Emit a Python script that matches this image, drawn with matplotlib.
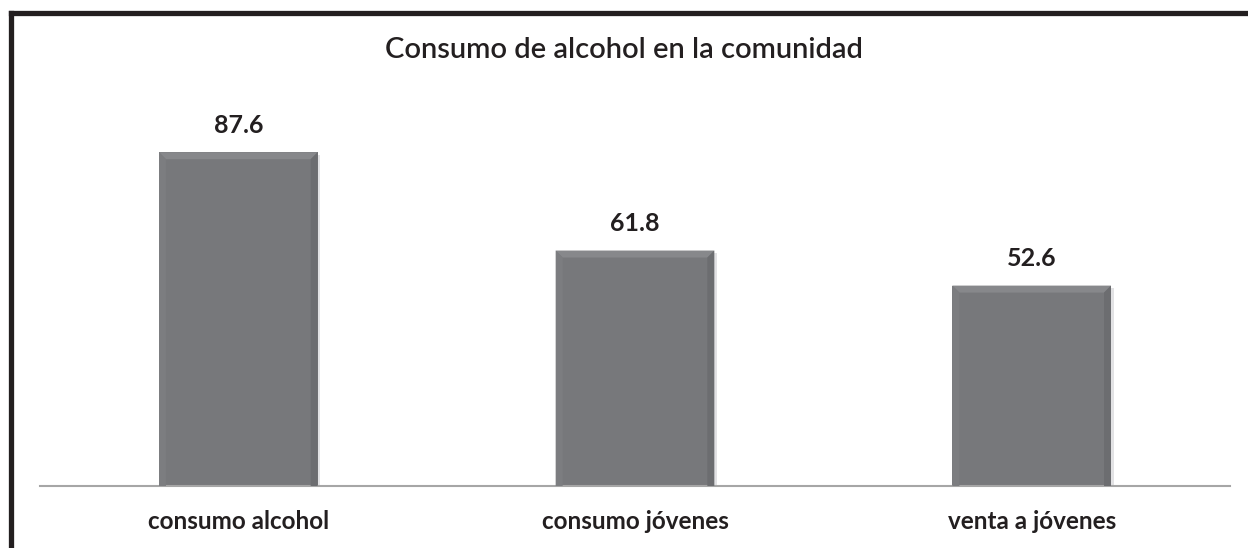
import matplotlib
matplotlib.use("Agg")
from matplotlib import pyplot as plt
from matplotlib.patches import Polygon, Rectangle

# chart data
categories = ["consumo alcohol", "consumo jóvenes", "venta a jóvenes"]
values = [87.6, 61.8, 52.6]
title = "Consumo de alcohol en la comunidad"

bar_color = "#77787b"
text_color = "#231f20"
plt.rcParams['font.family'] = ['Lato', 'DejaVu Sans']


def bevel_bar(ax, x, h, width, bx, by):
    """Draw one bar with a soft bevel like the office chart style."""
    left, right = x - width / 2, x + width / 2
    # soft shadow right / below
    ax.add_patch(Rectangle((left + bx * 0.4, 0), width, h - by * 0.4,
                           color="#e2e2e4", zorder=1, lw=0))
    ax.add_patch(Rectangle((left, 0), width, h, color=bar_color, zorder=2, lw=0))
    # top edge (lighter)
    ax.add_patch(Polygon([(left, h), (right, h), (right - bx, h - by), (left + bx, h - by)],
                         closed=True, color="#87888b", zorder=3, lw=0))
    # left edge
    ax.add_patch(Polygon([(left, 0), (left, h), (left + bx, h - by), (left + bx, 0)],
                         closed=True, color="#7c7d80", zorder=3, lw=0))
    # right edge (darker)
    ax.add_patch(Polygon([(right, 0), (right, h), (right - bx, h - by), (right - bx, 0)],
                         closed=True, color="#6c6d70", zorder=3, lw=0))


def main():
    fig = plt.figure(figsize=(12.48, 5.48), dpi=100)
    ax = fig.add_axes([40 / 1248, 62 / 548, 1190 / 1248, 381 / 548])
    ax.set_xlim(-0.5, len(categories) - 0.5)
    ax.set_ylim(0, 100)

    # bevel size in data units (about 7 px)
    bx = 7 / 397.0
    by = 7 / 3.81
    for i, v in enumerate(values):
        bevel_bar(ax, i, v, 0.4, bx, by)
        ax.text(i, v + 7, "%.1f" % v, ha="center", va="center",
                fontsize=18, fontweight="bold", color=text_color)

    for s in ["top", "right", "left"]:
        ax.spines[s].set_visible(False)
    ax.spines["bottom"].set_color("#a6a6a6")
    ax.spines["bottom"].set_linewidth(1.5)
    ax.set_yticks([])
    ax.set_xticks(range(len(categories)))
    ax.set_xticklabels(categories, fontsize=17.5, fontweight="bold", color=text_color)
    ax.tick_params(axis="x", length=0, pad=17)

    fig.text(0.5, 1 - 50 / 548, title, ha="center", va="center",
             fontsize=21, fontweight="semibold", color=text_color)

    # frame: only top and left sides are visible
    fig.add_artist(plt.Line2D([10.5 / 1248, 10.5 / 1248], [-0.05, 1 - 12.5 / 548],
                              color="#231f20", lw=3.8, transform=fig.transFigure,
                              solid_capstyle="projecting"))
    fig.add_artist(plt.Line2D([10.5 / 1248, 1.05], [1 - 12.5 / 548, 1 - 12.5 / 548],
                              color="#231f20", lw=3.8, transform=fig.transFigure,
                              solid_capstyle="projecting"))

    fig.savefig("out.png", dpi=100)


if __name__ == "__main__":
    main()
